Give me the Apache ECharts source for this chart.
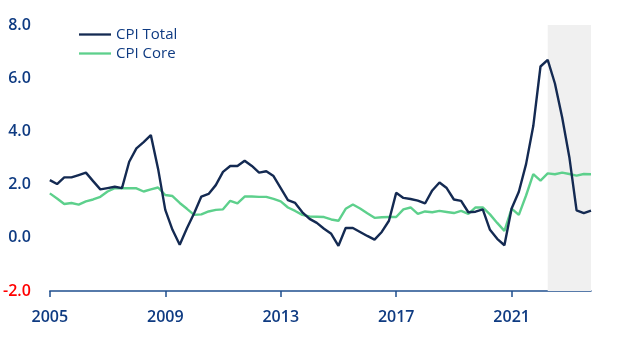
<!DOCTYPE html>
<html>
<head>
<meta charset="utf-8">
<script src="https://cdn.jsdelivr.net/npm/echarts@6/dist/echarts.min.js"></script>
<style>html,body{margin:0;padding:0;background:#fff}#c{width:617px;height:343px}</style>
</head>
<body>
<div id="c"></div>
<script>
var years = [2005,2006,2007,2008,2009,2010,2011,2012,2013,2014,2015,2016,2017,2018,2019,2020,2021,2022,2023];
var quarters = ['Q1','Q2','Q3','Q4'];
var categories = [];
years.forEach(function(y){ quarters.forEach(function(q){ categories.push(y + ' ' + q); }); });

var cpiTotal = [
  2.17, 2.02, 2.27, 2.27, 2.36, 2.45, 2.13, 1.82, 1.87, 1.92, 1.87, 2.86, 3.36, 3.60, 3.86, 2.60,
  1.05, 0.30, -0.26, 0.36, 0.92, 1.55, 1.65, 1.98, 2.48, 2.70, 2.70, 2.90, 2.70, 2.45, 2.50, 2.32,
  1.87, 1.42, 1.31, 0.96, 0.71, 0.56, 0.34, 0.15, -0.30, 0.37, 0.37, 0.22, 0.07, -0.07, 0.22, 0.64,
  1.69, 1.50, 1.46, 1.40, 1.29, 1.78, 2.08, 1.87, 1.44, 1.39, 0.96, 0.98, 1.07, 0.30, -0.04, -0.28,
  1.10, 1.73, 2.77, 4.20, 6.44, 6.69, 5.80, 4.53, 3.03, 1.03, 0.93, 1.02
];
var cpiCore = [
  1.67, 1.48, 1.27, 1.31, 1.25, 1.37, 1.44, 1.54, 1.74, 1.87, 1.86, 1.86, 1.86, 1.74, 1.82, 1.89,
  1.61, 1.57, 1.31, 1.09, 0.86, 0.88, 0.99, 1.05, 1.07, 1.39, 1.29, 1.55, 1.55, 1.54, 1.54, 1.46,
  1.37, 1.14, 1.01, 0.86, 0.80, 0.79, 0.78, 0.69, 0.64, 1.09, 1.25, 1.10, 0.92, 0.75, 0.77, 0.78,
  0.78, 1.07, 1.14, 0.90, 0.99, 0.96, 1.01, 0.97, 0.93, 1.01, 0.90, 1.14, 1.14, 0.88, 0.56, 0.26,
  1.10, 0.86, 1.59, 2.39, 2.15, 2.42, 2.39, 2.45, 2.40, 2.34, 2.40, 2.39
];
var yTicks = [-2, 0, 2, 4, 6, 8];
var shadeStart = '2022 Q2';
var shadeEnd = '2023 Q4';

var textBlue = '#0f3b82';
var chart = echarts.init(document.getElementById('c'), null, {renderer: 'canvas'});
chart.setOption({
  animation: false,
  textStyle: {fontFamily: 'Open Sans'},
  legend: {
    orient: 'vertical', left: 74, top: 22, itemWidth: 32, itemHeight: 10, itemGap: 4,
    icon: 'path://M0,4 L32,4 L32,6.3 L0,6.3 Z',
    textStyle: {color: textBlue, fontSize: 15, fontWeight: 500, fontFamily: 'Open Sans'},
    data: ['CPI Total', 'CPI Core']
  },
  grid: {left: 49, right: 26, top: 25, bottom: 52, containLabel: false},
  xAxis: {
    type: 'category', data: categories, boundaryGap: false,
    axisLine: {onZero: false, lineStyle: {color: '#1f4f8f', width: 1.5}},
    axisTick: {interval: 15, length: 6, lineStyle: {color: '#1f4f8f', width: 1.5}},
    axisLabel: {interval: 15, margin: 18, color: textBlue, fontSize: 16, fontWeight: 600,
      formatter: function(v){ return v.slice(0,4); }},
    splitLine: {show: false}
  },
  yAxis: {
    type: 'value', min: yTicks[0], max: yTicks[yTicks.length-1], interval: 2,
    axisLine: {show: false}, axisTick: {show: false}, splitLine: {show: false},
    axisLabel: {margin: 19, fontSize: 16, fontWeight: 600,
      color: function(v){ return v < 0 ? '#ff0000' : textBlue; },
      formatter: function(v){ return v.toFixed(1); }}
  },
  series: [
    {name: 'CPI Total', type: 'line', data: cpiTotal, symbol: 'none', z: 3,
     lineStyle: {color: '#142a52', width: 2.4}, itemStyle: {color: '#142a52'},
     markArea: {silent: true, itemStyle: {color: '#f0f0f0'},
       data: [[{xAxis: shadeStart}, {xAxis: shadeEnd}]]}},
    {name: 'CPI Core', type: 'line', data: cpiCore, symbol: 'none', z: 2,
     lineStyle: {color: '#5dd08c', width: 2.4}, itemStyle: {color: '#5dd08c'}}
  ]
});
</script>
</body>
</html>
